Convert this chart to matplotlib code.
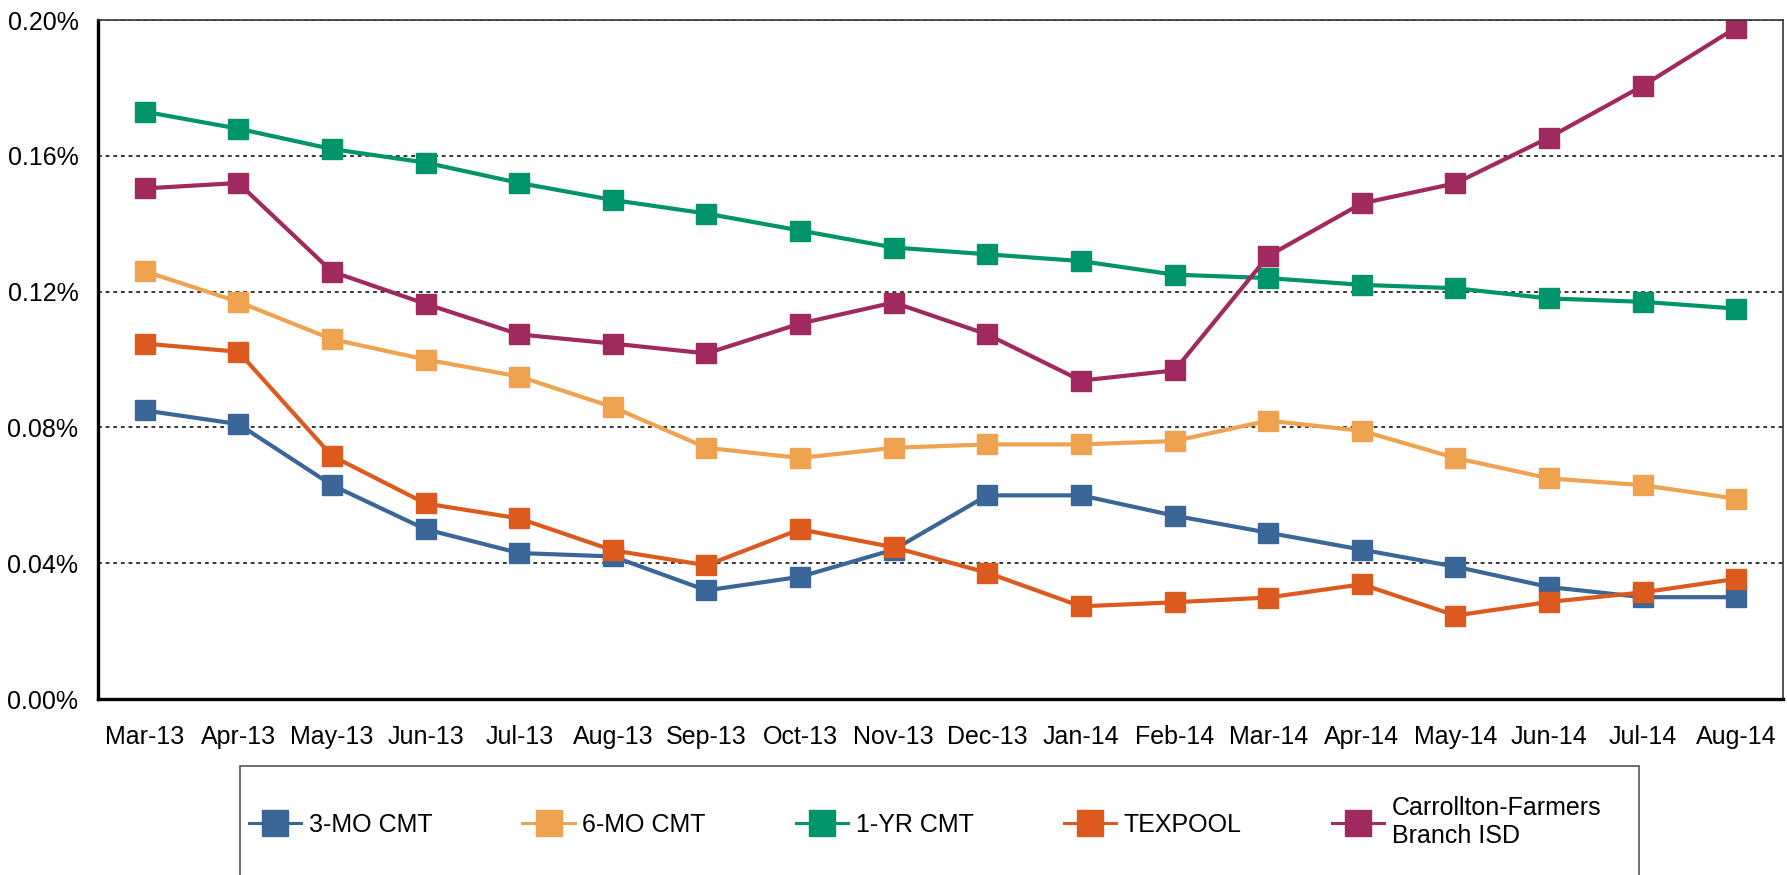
import numpy as np
import matplotlib
matplotlib.use("Agg")
import matplotlib.pyplot as plt
from matplotlib.ticker import FuncFormatter, MultipleLocator
from matplotlib.lines import Line2D
from matplotlib.patches import Rectangle

plt.rcParams['font.family'] = ['Liberation Sans Narrow', 'Liberation Sans', 'DejaVu Sans']

months = ["Mar-13", "Apr-13", "May-13", "Jun-13", "Jul-13", "Aug-13", "Sep-13",
          "Oct-13", "Nov-13", "Dec-13", "Jan-14", "Feb-14", "Mar-14", "Apr-14",
          "May-14", "Jun-14", "Jul-14", "Aug-14"]

# yields in percent
mo3 = [0.085, 0.081, 0.063, 0.050, 0.043, 0.042, 0.032, 0.036, 0.044, 0.060,
       0.060, 0.054, 0.049, 0.044, 0.039, 0.033, 0.030, 0.030]
mo6 = [0.126, 0.117, 0.106, 0.100, 0.095, 0.086, 0.074, 0.071, 0.074, 0.075,
       0.075, 0.076, 0.082, 0.079, 0.071, 0.065, 0.063, 0.059]
yr1 = [0.173, 0.168, 0.162, 0.158, 0.152, 0.147, 0.143, 0.138, 0.133, 0.131,
       0.129, 0.125, 0.124, 0.122, 0.121, 0.118, 0.117, 0.115]
texpool = [0.1047, 0.1023, 0.0716, 0.0576, 0.0532, 0.0438, 0.0394, 0.0500, 0.0447, 0.0372,
           0.0273, 0.0285, 0.0299, 0.0338, 0.0246, 0.0286, 0.0314, 0.0354]
cfb = [0.1504, 0.1520, 0.1259, 0.1164, 0.1074, 0.1047, 0.1018, 0.1106, 0.1168, 0.1074,
       0.0938, 0.0968, 0.1305, 0.1460, 0.1519, 0.1654, 0.1806, 0.1978]

series = [
    ("3-MO CMT", mo3, "#3A6698"),
    ("6-MO CMT", mo6, "#EFA350"),
    ("1-YR CMT", yr1, "#00946B"),
    ("TEXPOOL", texpool, "#DD5A1F"),
    ("Carrollton-Farmers\nBranch ISD", cfb, "#A0295E"),
]

fig = plt.figure(figsize=(17.87, 8.75), dpi=100)
ax = fig.add_axes([0.0548, 0.2011, 0.9430, 0.7760])

x = np.arange(len(months))
handles = []
for name, vals, col in series:
    ax.plot(x, vals, color=col, lw=3, marker="s", ms=15, mec=col, mfc=col)
    handles.append(Line2D([0], [0], color=col, lw=2.2, marker="s", ms=19,
                          mec=col, mfc=col, label=name))

ax.set_xlim(-0.5, len(months) - 0.5)
ax.set_ylim(0, 0.20)
ax.yaxis.set_major_locator(MultipleLocator(0.04))
ax.yaxis.set_major_formatter(FuncFormatter(lambda v, p: f"{v:.2f}%"))
ax.set_xticks(x)
ax.set_xticklabels(months)
ax.tick_params(axis="both", length=0, labelsize=18)
ax.tick_params(axis="x", pad=19)
ax.tick_params(axis="y", pad=14)
ax.grid(axis="y", color="black", lw=1.1, linestyle=(0, (2.5, 2.5)))
ax.set_axisbelow(True)

for s in ["left", "bottom"]:
    ax.spines[s].set_linewidth(2.4)
    ax.spines[s].set_color("black")
for s in ["top", "right"]:
    ax.spines[s].set_linewidth(1.2)
    ax.spines[s].set_color("#333333")

# legend box (runs off the bottom edge like the original)
fig.patches.append(Rectangle((240 / 1787, -0.05), (1639 - 240) / 1787, 0.05 + (875 - 766) / 875,
                             transform=fig.transFigure, fill=False,
                             edgecolor="#555555", lw=1.2))
fig.legend(handles=handles, loc="center", bbox_to_anchor=(925 / 1787, 1 - 822 / 875),
           ncol=5, frameon=False, fontsize=18, handlelength=2.1, handletextpad=0.3,
           columnspacing=3.6)

fig.savefig("out.png", dpi=100)
